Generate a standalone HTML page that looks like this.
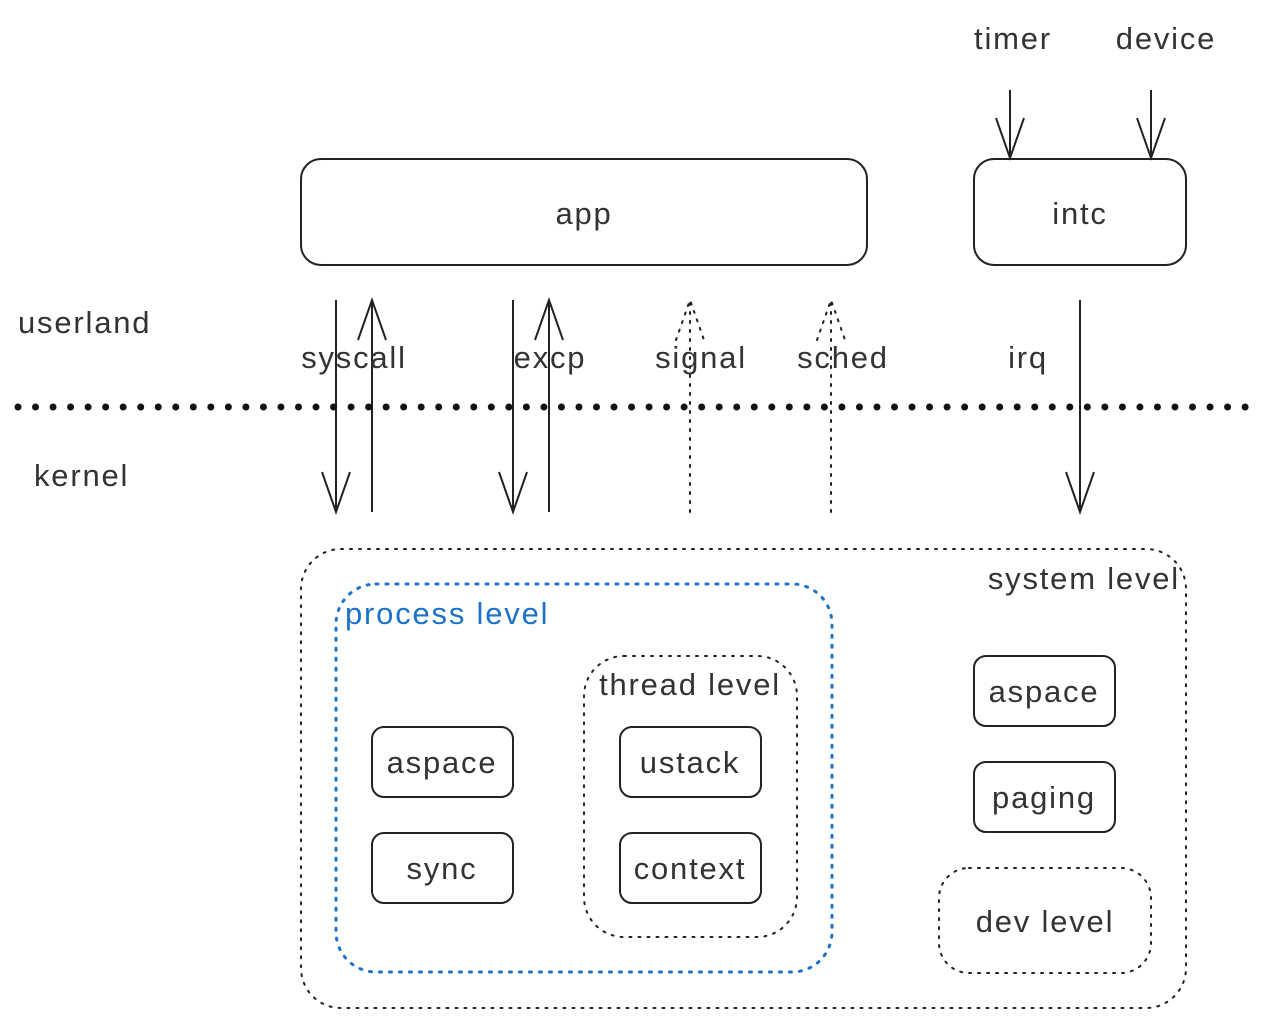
<!DOCTYPE html>
<html><head><style>html,body{margin:0;padding:0;background:#fff}</style></head><body>
<svg width="1275" height="1027" xmlns="http://www.w3.org/2000/svg" font-family="Liberation Sans, sans-serif" font-size="31" letter-spacing="1.8" fill="#333">
<g fill="none" stroke="#222" stroke-width="2">
<rect x="301" y="159" width="566" height="106" rx="20"/>
<rect x="974" y="159" width="212" height="106" rx="20"/>
<path d="M1010 90V158M996 118L1010 158L1024 118"/>
<path d="M1151 90V158M1137 118L1151 158L1165 118"/>
<path d="M336 300V512M322 472L336 512L350 472"/>
<path d="M372 512V300M358 340L372 300L386 340"/>
<path d="M513 300V512M499 472L513 512L527 472"/>
<path d="M549 512V300M535 340L549 300L563 340"/>
<path d="M1080 300V512M1066 472L1080 512L1094 472"/>
<g stroke-dasharray="2 7" stroke-linecap="round">
<path d="M690 512V300M676 340L690 300L704 340"/>
<path d="M831 512V300M817 340L831 300L845 340"/>
<rect x="301" y="549" width="885" height="459" rx="40"/>
<rect x="584" y="656" width="213" height="281" rx="40"/>
<rect x="939" y="868" width="212" height="105" rx="30"/>
</g>
<path d="M18 407H1246" stroke-width="7" stroke-dasharray="0 17.53" stroke-linecap="round" stroke="#111"/>
<rect x="336" y="584" width="496" height="388" rx="40" stroke="#1a73c8" stroke-width="3" stroke-dasharray="2 8" stroke-linecap="round"/>
<rect x="372" y="727" width="141" height="70" rx="12"/>
<rect x="372" y="833" width="141" height="70" rx="12"/>
<rect x="620" y="727" width="141" height="70" rx="12"/>
<rect x="620" y="833" width="141" height="70" rx="12"/>
<rect x="974" y="656" width="141" height="70" rx="12"/>
<rect x="974" y="762" width="141" height="70" rx="12"/>
</g>
<g text-anchor="middle">
<text x="1013" y="49">timer</text>
<text x="1166" y="49">device</text>
<text x="584" y="224">app</text>
<text x="1080" y="224">intc</text>
<text x="354" y="368">syscall</text>
<text x="550" y="368">excp</text>
<text x="701" y="368">signal</text>
<text x="843" y="368">sched</text>
<text x="1028" y="368">irq</text>
<text x="690" y="695">thread level</text>
<text x="442" y="773">aspace</text>
<text x="442" y="879">sync</text>
<text x="690" y="773">ustack</text>
<text x="690" y="879">context</text>
<text x="1044" y="702">aspace</text>
<text x="1044" y="808">paging</text>
<text x="1045" y="932">dev level</text>
</g>
<text x="18" y="333">userland</text>
<text x="34" y="486">kernel</text>
<text x="1180" y="589" text-anchor="end">system level</text>
<text x="345" y="624" fill="#1a73c8">process level</text>
</svg>
</body></html>
